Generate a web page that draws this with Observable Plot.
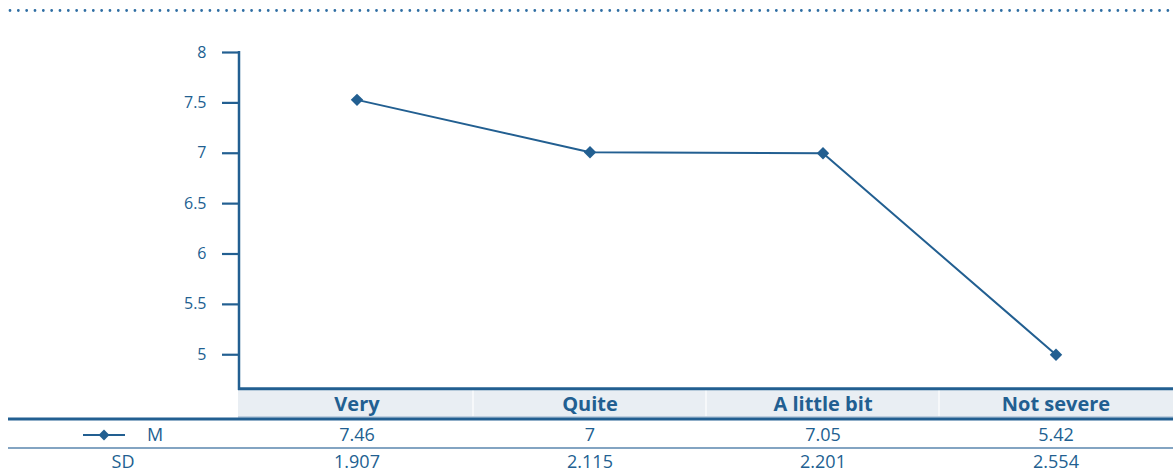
<!DOCTYPE html>
<html><head><meta charset="utf-8">
<script src="https://cdn.jsdelivr.net/npm/d3@7"></script>
<script src="https://cdn.jsdelivr.net/npm/@observablehq/plot@0.6"></script>
<style>html,body{margin:0;padding:0;background:#fff} svg{display:block}</style>
</head><body><div id="chart"></div>
<script>
const categories = ["Very", "Quite", "A little bit", "Not severe"];
const plottedMeans = [7.53, 7.01, 7.0, 5.0];
const meanLabels = ["7.46", "7", "7.05", "5.42"];
const sdLabels = ["1.907", "2.115", "2.201", "2.554"];
const yTicks = [5, 5.5, 6, 6.5, 7, 7.5, 8];
const rowLabels = ["M", "SD"];

const data = categories.map((c, i) => ({category: c, mean: plottedMeans[i], m: meanLabels[i], sd: sdLabels[i]}));

const blue = "#225f91";
const font = "'Open Sans', sans-serif";

// offsets (px) of table elements below the plot frame bottom
const off = {headTop: 1.5, headBottom: 28, head: 16, thick: 30.5, mRow: 46.5, thin: 59.5, sdRow: 73.5};

function decor(index, scales, values, dims) {
  const x = scales.x;
  const {width, height, marginLeft, marginRight, marginBottom, marginTop} = dims;
  const bottom = height - marginBottom;
  const right = width - marginRight;
  const g = d3.create("svg:g");
  // dotted top rule
  g.append("line").attr("x1", 10).attr("x2", width).attr("y1", 10.5).attr("y2", 10.5)
    .attr("stroke", "#2f6ea3").attr("stroke-width", 2.8).attr("stroke-linecap", "round")
    .attr("stroke-dasharray", "0 8.33");
  // header band
  g.append("rect").attr("x", marginLeft).attr("y", bottom + off.headTop)
    .attr("width", right - marginLeft).attr("height", off.headBottom - off.headTop)
    .attr("fill", "#e9eef3");
  // header separators
  categories.slice(1).forEach(c => {
    g.append("line").attr("x1", x(c)).attr("x2", x(c))
      .attr("y1", bottom + off.headTop).attr("y2", bottom + off.headBottom)
      .attr("stroke", "#ffffff").attr("stroke-width", 1.2);
  });
  // thin light line under header
  g.append("line").attr("x1", marginLeft).attr("x2", right).attr("y1", bottom + off.headBottom + 0.5).attr("y2", bottom + off.headBottom + 0.5)
    .attr("stroke", "#8aa9c4").attr("stroke-width", 1);
  // thick line under header
  g.append("line").attr("x1", 8).attr("x2", right).attr("y1", bottom + off.thick).attr("y2", bottom + off.thick)
    .attr("stroke", blue).attr("stroke-width", 3);
  // thin line between rows
  g.append("line").attr("x1", 8).attr("x2", right).attr("y1", bottom + off.thin).attr("y2", bottom + off.thin)
    .attr("stroke", "#5a86ae").attr("stroke-width", 1.5);
  // y axis line
  g.append("line").attr("x1", marginLeft + 1).attr("x2", marginLeft + 1).attr("y1", marginTop - 1).attr("y2", bottom + 1.5)
    .attr("stroke", blue).attr("stroke-width", 2.5);
  // x baseline
  g.append("line").attr("x1", marginLeft).attr("x2", right).attr("y1", bottom + 0.3).attr("y2", bottom + 0.3)
    .attr("stroke", blue).attr("stroke-width", 3);
  // row labels: legend for M, and SD
  const ym = bottom + off.mRow;
  g.append("line").attr("x1", 83).attr("x2", 125).attr("y1", ym).attr("y2", ym)
    .attr("stroke", blue).attr("stroke-width", 1.8);
  g.append("path").attr("d", d3.symbol(d3.symbolDiamond2, 75)()).attr("transform", `translate(104,${ym})`)
    .attr("fill", blue);
  g.append("text").attr("x", 155).attr("y", ym).attr("dy", "0.35em").attr("text-anchor", "middle")
    .attr("fill", blue).attr("font-size", 18).attr("font-family", font).text(rowLabels[0]);
  g.append("text").attr("x", 123).attr("y", bottom + off.sdRow).attr("dy", "0.35em").attr("text-anchor", "middle")
    .attr("fill", blue).attr("font-size", 18).attr("font-family", font).text(rowLabels[1]);
  return g.node();
}

const chart = Plot.plot({
  width: 1173,
  height: 474,
  marginLeft: 238,
  marginRight: 0,
  marginTop: 52,
  marginBottom: 85.5,
  style: {color: blue, fontFamily: font, background: "#fff"},
  x: {type: "band", domain: categories, padding: 0, axis: null},
  y: {domain: [4.66, 8], label: null},
  marks: [
    decor,
    Plot.axisY({ticks: yTicks, tickSize: 16, tickPadding: 16, strokeWidth: 2.2, fontSize: 16, tickFormat: d => String(d), label: null}),
    Plot.line(data, {x: "category", y: "mean", stroke: blue, strokeWidth: 2}),
    Plot.dot(data, {x: "category", y: "mean", symbol: "diamond2", r: 5.6, fill: blue, stroke: "none"}),
    Plot.text(data, {x: "category", text: "category", frameAnchor: "bottom", dy: off.head, fontSize: 20, fontWeight: "bold", fill: blue, lineAnchor: "middle"}),
    Plot.text(data, {x: "category", text: "m", frameAnchor: "bottom", dy: off.mRow, fontSize: 18, fill: blue, lineAnchor: "middle"}),
    Plot.text(data, {x: "category", text: "sd", frameAnchor: "bottom", dy: off.sdRow, fontSize: 18, fill: blue, lineAnchor: "middle"})
  ]
});
document.getElementById("chart").appendChild(chart);
</script>
</body></html>
